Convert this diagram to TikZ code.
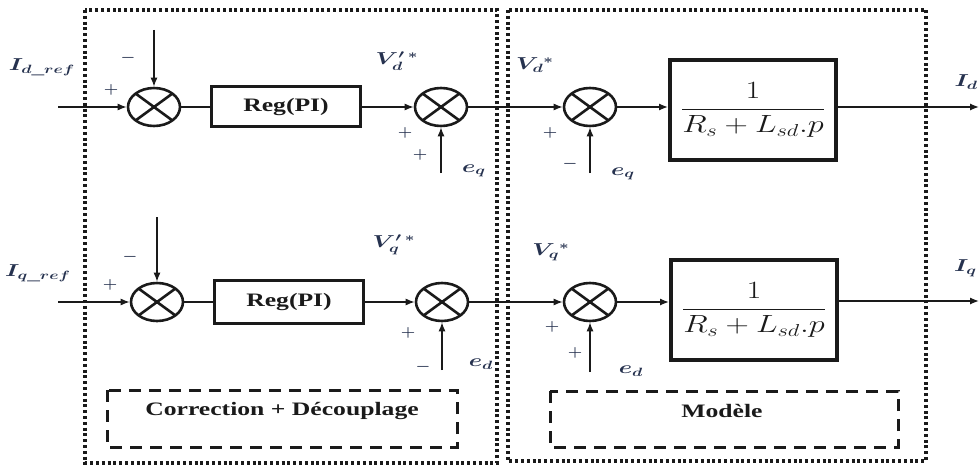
\documentclass[tikz,border=0pt]{standalone}
\usepackage[no-math]{fontspec}
\setmainfont{Liberation Serif}
\usepackage{graphicx}
\usetikzlibrary{arrows.meta,shapes.geometric,calc}
\definecolor{ink}{HTML}{1A1A1A}
\definecolor{lab}{HTML}{26324F}
% horizontally widened text
\newcommand\wx[1]{\scalebox{1.35}[1]{#1}}
\newcommand\wl[1]{\scalebox{1.4}[1]{\boldmath#1}}
\newcommand\wf[1]{\scalebox{1.3}[1]{#1}}
\newcommand\ws[1]{\scalebox{1.15}[1]{\boldmath#1}}

\begin{document}
\begin{tikzpicture}[x=1pt,y=-1pt,
  sumnode/.style={ellipse, draw=ink, line width=2.6pt, minimum width=52pt,
    minimum height=38pt, inner sep=0pt,
    path picture={\draw[ink, line width=2.6pt]
      (path picture bounding box.north west) -- (path picture bounding box.south east)
      (path picture bounding box.north east) -- (path picture bounding box.south west);}},
  regbox/.style={draw=ink, line width=3pt, minimum width=149pt, minimum height=40pt,
    inner sep=0pt, text=ink, font=\fontsize{19}{22}\selectfont\bfseries},
  tfbox/.style={draw=ink, line width=4pt, minimum width=166pt, minimum height=100pt,
    inner sep=0pt, text=ink, font=\fontsize{23}{27}\selectfont},
  conn/.style={draw=ink, line width=1.3pt, -{Latex[length=9pt,width=7pt]}},
  wire/.style={draw=ink, line width=1.3pt},
  labs/.style={text=lab, font=\fontsize{18}{21}\selectfont, inner sep=0pt},
  sign/.style={text=lab, font=\fontsize{15}{17}\selectfont, inner sep=0pt},
  frame/.style={draw=ink, line width=3.2pt, dash pattern=on 3pt off 2.8pt},
  group/.style={draw=ink, line width=3pt, dash pattern=on 12pt off 8pt},
  grouptext/.style={text=ink, font=\fontsize{19}{22}\selectfont\bfseries, inner sep=0pt}
]
\useasboundingbox (0,0) rectangle (979,468);

% outer dotted frames
\draw[frame] (85,10) rectangle (497,463);
\draw[frame] (508,10) rectangle (926,461);

% dashed group boxes
\draw[group] (107,390) rectangle (457,447);
\draw[group] (550,391) rectangle (898,447);
\node[grouptext] (gcorr) at (282,411) {\wx{Correction + Découplage}};
\node[grouptext] (gmod) at (722,411) {\wx{Modèle}};

% ---- d axis ----
\node[sumnode] (s11) at (154,107) {};
\node[regbox] (r1) at (286,107) {\wx{Reg(PI)}};
\node[sumnode] (s12) at (441,107) {};
\node[sumnode] (s13) at (590,107) {};
\node[tfbox] (tf1) at (753,110) {\wf{$\displaystyle\frac{1}{R_s+L_{sd}.p}$}};

\coordinate (in1) at (58,107);
\coordinate (out1) at (979,107);
\coordinate (t11) at (154,30);
\coordinate (b12) at (441,173);
\coordinate (b13) at (590,173);

\draw[conn] (in1) -- (s11);
\draw[wire] (s11) -- (r1);
\draw[conn] (r1) -- (s12);
\draw[conn] (s12) -- (s13);
\draw[conn] (s13) -- (tf1.west |- s13);
\draw[conn] (tf1.east |- s13) -- (out1);
\draw[conn] (t11) -- (s11);
\draw[conn] (b12) -- (s12);
\draw[conn] (b13) -- (s13);

\node[labs] (lid) at (42,67) {\wl{$I_{d\_ref}$}};
\node[sign] (m11) at (128,58) {\ws{$-$}};
\node[sign] (p11) at (111,90) {\ws{$+$}};
\node[labs] (lvpd) at (397,61) {\wl{$V'_{d}{}^{\,*}$}};
\node[sign] (p12a) at (405,133) {\ws{$+$}};
\node[sign] (p12b) at (420,155) {\ws{$+$}};
\node[labs] (leq1) at (474,171) {\wl{$e_q$}};
\node[labs] (lvd) at (535,65) {\wl{$V_{d}{}^{*}$}};
\node[sign] (p13) at (550,133) {\ws{$+$}};
\node[sign] (m13) at (570,164) {\ws{$-$}};
\node[labs] (leq2) at (623,174) {\wl{$e_q$}};
\node[labs, anchor=east] (lod) at (978,82) {\wl{$I_d$}};

% ---- q axis ----
\node[sumnode] (s21) at (157,302) {};
\node[regbox, minimum height=43pt] (r2) at (289,302) {\wx{Reg(PI)}};
\node[sumnode] (s22) at (442,302) {};
\node[sumnode] (s23) at (590,302) {};
\node[tfbox] (tf2) at (754,310) {\wf{$\displaystyle\frac{1}{R_s+L_{sd}.p}$}};

\coordinate (in2) at (58,302);
\coordinate (out2) at (979,301);
\coordinate (t21) at (157,217);
\coordinate (b22) at (442,370);
\coordinate (b23) at (590,372);

\draw[conn] (in2) -- (s21);
\draw[wire] (s21) -- (r2);
\draw[conn] (r2) -- (s22);
\draw[conn] (s22) -- (s23);
\draw[conn] (s23) -- (tf2.west |- s23);
\draw[conn] (tf2.east |- out2) -- (out2);
\draw[conn] (t21) -- (s21);
\draw[conn] (b22) -- (s22);
\draw[conn] (b23) -- (s23);

\node[labs] (liq) at (38,273) {\wl{$I_{q\_ref}$}};
\node[sign] (m21) at (130,257) {\ws{$-$}};
\node[sign] (p21) at (110,285) {\ws{$+$}};
\node[labs] (lvpq) at (394,245) {\wl{$V'_{q}{}^{\,*}$}};
\node[sign] (p22) at (408,333) {\ws{$+$}};
\node[sign] (m22) at (423,367) {\ws{$-$}};
\node[labs] (led1) at (481,364) {\wl{$e_d$}};
\node[labs] (lvq) at (551,252) {\wl{$V_{q}{}^{*}$}};
\node[sign] (p23a) at (552,327) {\ws{$+$}};
\node[sign] (p23b) at (575,353) {\ws{$+$}};
\node[labs] (led2) at (631,371) {\wl{$e_d$}};
\node[labs, anchor=east] (loq) at (977,268) {\wl{$I_q$}};
\end{tikzpicture}
\end{document}
